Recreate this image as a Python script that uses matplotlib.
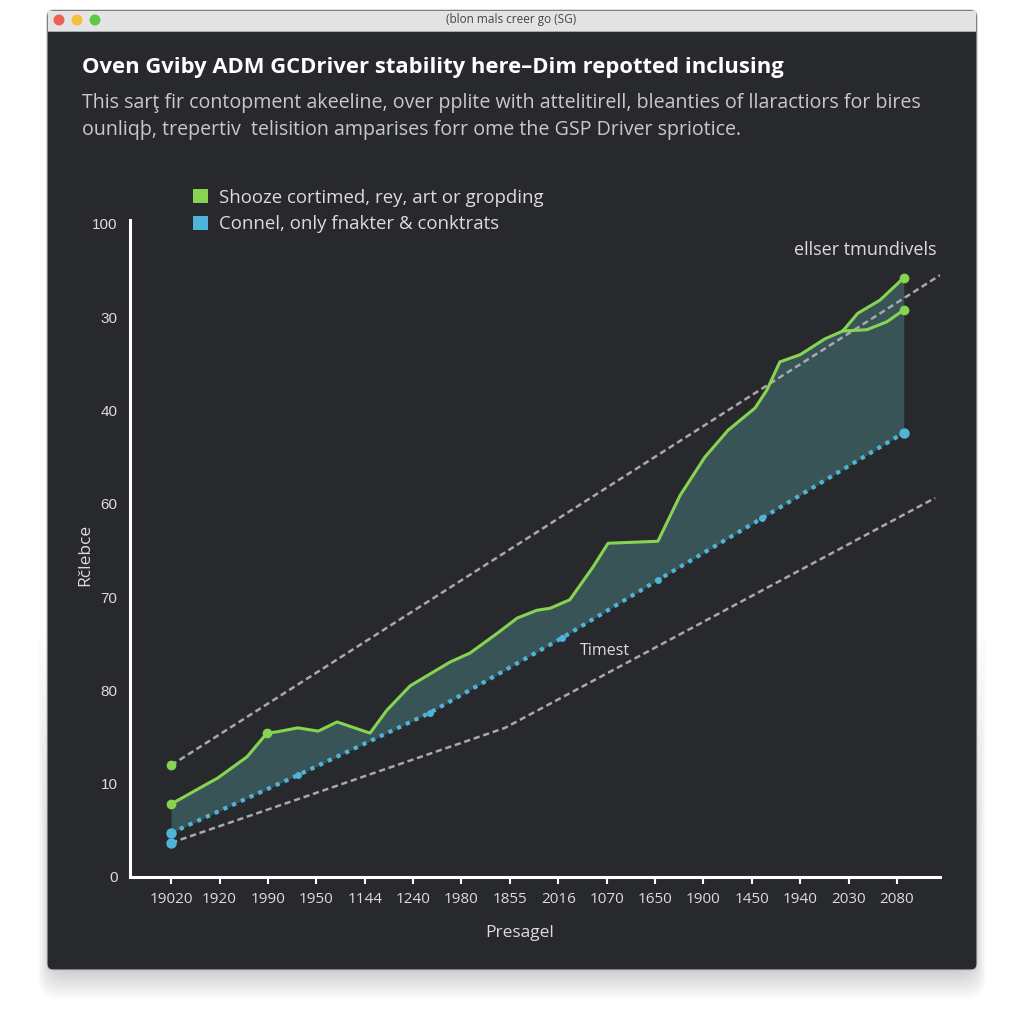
import matplotlib.pyplot as plt
from matplotlib.patches import FancyBboxPatch, Rectangle, Circle, Patch
import numpy as np

# chart data (x in tick-index units, y in axis units 0..100)
tick_labels = ['19020', '1920', '1990', '1950', '1144', '1240', '1980', '1855', '2016',
               '1070', '1650', '1900', '1450', '1940', '2030', '2080']
ytick_labels = ['0', '10', '80', '70', '60', '40', '30', '100']

green_x = [0, 0.97, 1.57, 1.98, 2.19, 2.62, 3.04, 3.43, 4.11, 4.46, 4.94, 5.76, 6.18, 6.74, 7.15,
           7.56, 7.83, 8.24, 8.72, 9.03, 10.06, 10.52, 11.03, 11.51, 12.07, 12.31, 12.58, 13.0,
           13.51, 13.88, 14.19, 14.65, 15.14]
green_y = [11.1, 15.1, 18.3, 21.9, 22.1, 22.7, 22.2, 23.6, 21.9, 25.4, 29.1, 32.7, 34.1, 37.1, 39.4,
           40.6, 40.9, 42.2, 47.2, 50.8, 51.1, 58.1, 63.9, 68.0, 71.4, 74.1, 78.4, 79.5,
           81.9, 83.1, 85.8, 87.8, 91.2]
green2_x = [13.88, 14.38, 14.79, 15.14]
green2_y = [83.1, 83.3, 84.5, 86.3]

blue_x = [0, 2.62, 5.35, 8.08, 10.06, 12.21, 15.14]
blue_y = [6.7, 15.5, 25.0, 36.4, 45.2, 54.6, 67.6]

upper_trend_x = [0, 15.89]
upper_trend_y = [17.0, 91.6]
lower_trend_x = [0, 6.90, 15.79]
lower_trend_y = [5.2, 22.7, 57.7]

legend_labels = ['Shooze cortimed, rey, art or gropding', 'Connel, only fnakter & conktrats']

GREEN = '#86d451'
BLUE = '#4fb4d8'
GREY = '#a9a9ad'
BG = '#28292d'
TXT = '#dcdcdc'

plt.rcParams['font.family'] = ['Open Sans', 'DejaVu Sans']

fig = plt.figure(figsize=(10.24, 10.24), dpi=100)
fig.patch.set_facecolor('white')


def fx(px):
    return px / 1024


def fy(py):
    return 1 - py / 1024


# soft shadow, fading upward from below the window
for i in range(16):
    fig.patches.append(FancyBboxPatch((fx(50 - i * 0.8), fy(972 + i * 1.8)), fx(924 + i * 1.6),
                                      fx(40 + i * 22),
                                      boxstyle='round,pad=0,rounding_size=0.02',
                                      transform=fig.transFigure, facecolor='black',
                                      edgecolor='none', alpha=0.012, zorder=0))
# window body
fig.patches.append(FancyBboxPatch((fx(47), fy(970)), fx(930), fx(960),
                                  boxstyle='round,pad=0,rounding_size=0.006',
                                  transform=fig.transFigure, facecolor=BG,
                                  edgecolor='#c4c4c4', linewidth=0.8, zorder=1))
fig.patches.append(Rectangle((fx(48), fy(31)), fx(928), fx(20), transform=fig.transFigure,
                             facecolor='#e4e4e4', edgecolor='none', zorder=2))
fig.patches.append(Rectangle((fx(48), fy(32)), fx(928), fx(1.5), transform=fig.transFigure,
                             facecolor='#aaaaaa', edgecolor='none', zorder=2))
for cx, col in [(59, '#ee5f57'), (77, '#f4be3e'), (95, '#5bc944')]:
    fig.patches.append(Circle((fx(cx), fy(20)), fx(5.5), transform=fig.transFigure,
                              facecolor=col, edgecolor='none', zorder=3))
fig.text(fx(511), fy(20), '(blon mals creer go (SG)', ha='center', va='center',
         fontsize=8.5, color='#444444', zorder=3)

# title and subtitle
fig.text(fx(82), fy(68), 'Oven Gviby ADM GCDriver stability here–Dim repotted inclusing',
         ha='left', va='center', fontsize=15.8, fontweight='bold', color='white', zorder=3)
fig.text(fx(82), fy(103), 'This sarţ fir contopment akeeline, over pplite with attelitirell, '
         'bleanties of llaractiors for bires', ha='left', va='center', fontsize=14.1,
         color='#c9c9cb', zorder=3)
fig.text(fx(82), fy(130), 'ounliqþ, trepertiv  telisition amparises forr ome the GSP Driver spriotice.',
         ha='left', va='center', fontsize=14.1, color='#c9c9cb', zorder=3)

ax = fig.add_axes([fx(130), fy(877), fx(810), fx(657)])
ax.set_facecolor('none')
ax.set_zorder(5)

# fill between green and blue
xs = np.union1d(green_x, blue_x)
ax.fill_between(xs, np.interp(xs, blue_x, blue_y), np.interp(xs, green_x, green_y),
                color='#3a5759', alpha=0.95, linewidth=0, zorder=1)

ax.plot(upper_trend_x, upper_trend_y, color=GREY, lw=1.8, linestyle=(0, (2.5, 1.5)), zorder=2)
ax.plot(lower_trend_x, lower_trend_y, color=GREY, lw=1.8, linestyle=(0, (2.5, 1.5)), zorder=2)

ax.plot(green_x, green_y, color=GREEN, lw=2.2, zorder=4)
ax.plot(green2_x, green2_y, color=GREEN, lw=2.2, zorder=4)
ax.plot(blue_x, blue_y, color=BLUE, lw=3, linestyle=(0, (1, 1.3)), zorder=4)
ax.plot(blue_x[1:-1], blue_y[1:-1], 'o', color=BLUE, ms=4, zorder=4)

ax.plot([green_x[0], green_x[-1], green2_x[-1], green_x[3], upper_trend_x[0]],
        [green_y[0], green_y[-1], green2_y[-1], green_y[3], upper_trend_y[0]],
        'o', color=GREEN, ms=6, zorder=5)
ax.plot([blue_x[0], blue_x[-1], lower_trend_x[0]], [blue_y[0], blue_y[-1], lower_trend_y[0]],
        'o', color=BLUE, ms=6.5, zorder=5)

ax.text(15.82, 95.4, 'ellser tmundivels', ha='right', va='center', fontsize=13, color=TXT)
ax.text(8.97, 34.4, 'Timest', ha='center', va='center', fontsize=11.5, color=TXT)

ax.set_xlim(-0.85, 15.89)
ax.set_ylim(0, 100)
ax.set_xticks(range(len(tick_labels)))
ax.set_xticklabels(tick_labels)
ax.set_yticks(np.linspace(0, 99.4, len(ytick_labels)))
ax.set_yticklabels(ytick_labels, family=['Liberation Sans'])
ax.tick_params(axis='x', colors='white', labelcolor=TXT, length=5, width=1.5, pad=6, labelsize=11)
ax.tick_params(axis='y', length=0, labelcolor=TXT, pad=9, labelsize=11)
for s in ['top', 'right']:
    ax.spines[s].set_visible(False)
for s in ['left', 'bottom']:
    ax.spines[s].set_color('white')
    ax.spines[s].set_linewidth(2.2)

fig.text(fx(520), fy(933), 'Presagel', ha='center', va='center', fontsize=12.5, color=TXT, zorder=6)
fig.text(fx(85), fy(555), 'Rčlebce', ha='center', va='center', rotation=90, fontsize=12.5,
         color=TXT, zorder=6)

handles = [Patch(facecolor=GREEN, edgecolor='none'), Patch(facecolor=BLUE, edgecolor='none')]
fig.legend(handles, legend_labels, loc='upper left', bbox_to_anchor=(fx(176), fy(172)),
           frameon=False, fontsize=13.4, labelcolor=TXT, handlelength=0.8, handleheight=0.8,
           handletextpad=0.6, labelspacing=0.45)

fig.savefig('out.png', dpi=100, facecolor=fig.get_facecolor())
